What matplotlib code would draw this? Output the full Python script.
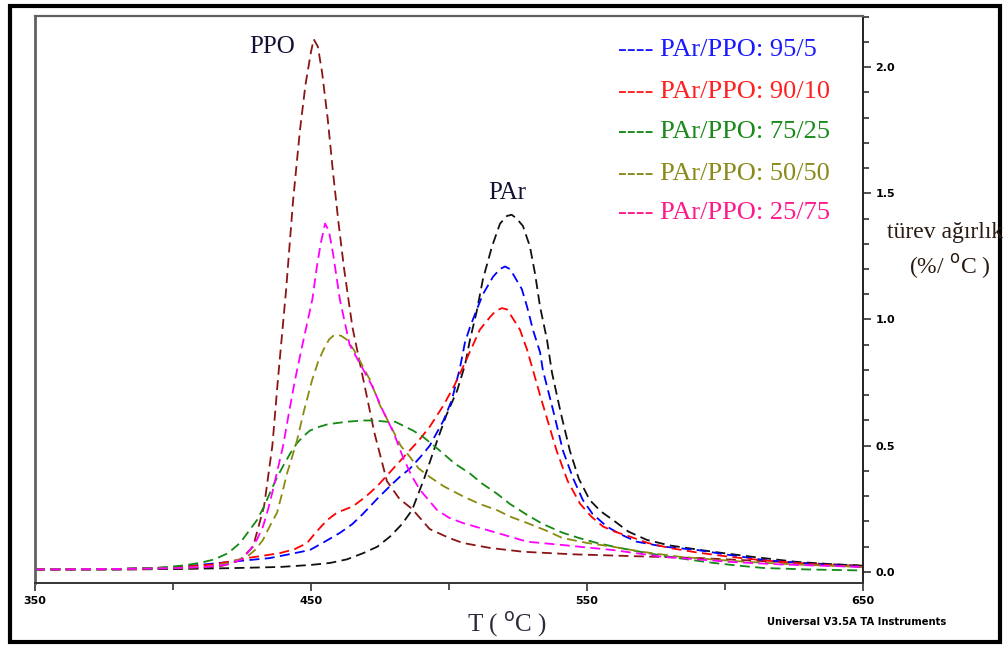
import matplotlib
matplotlib.use("Agg")
import matplotlib.pyplot as plt
from matplotlib.patches import Rectangle
from matplotlib.ticker import MultipleLocator

# ---- DTG curves: temperature (°C) and derivative weight (%/°C) ----
ppo_T = [350, 380, 400, 410, 418, 424, 429, 433, 436, 438, 441, 443.5, 446, 448, 450, 451,
         452.5, 454, 456, 458, 460, 462, 465, 469, 473, 477.5, 482, 486.6, 493, 500, 505, 515,
         527, 545, 560, 575, 591, 610, 630, 650]
ppo_v = [0.01, 0.01, 0.012, 0.015, 0.025, 0.045, 0.10, 0.26, 0.50, 0.76, 1.12, 1.47, 1.75, 1.93,
         2.06, 2.11, 2.08, 1.98, 1.80, 1.58, 1.38, 1.20, 0.97, 0.76, 0.55, 0.36, 0.29, 0.25, 0.17,
         0.135, 0.115, 0.095, 0.08, 0.07, 0.065, 0.06, 0.055, 0.045, 0.035, 0.025]

par_T = [350, 380, 400, 420, 439, 450, 457, 463, 469, 474, 478.6, 483, 486.6, 491, 495.7, 499,
         503, 505.8, 507.6, 510, 512.3, 515.6, 518.5, 521, 522.7, 524.5, 526.8, 529.3, 531.2, 533,
         535.5, 537.3, 540.5, 543.8, 547, 551, 555, 559.4, 565, 571.7, 580, 595.7, 610, 626, 640, 650]
par_v = [0.01, 0.01, 0.012, 0.015, 0.02, 0.028, 0.036, 0.05, 0.075, 0.10, 0.14, 0.19, 0.245, 0.37,
         0.52, 0.62, 0.72, 0.82, 0.92, 1.03, 1.16, 1.29, 1.38, 1.41, 1.415, 1.40, 1.37, 1.29, 1.18,
         1.05, 0.92, 0.79, 0.63, 0.48, 0.37, 0.285, 0.24, 0.206, 0.16, 0.127, 0.105, 0.08, 0.06,
         0.04, 0.03, 0.025]

b95_T = [350, 380, 400, 420.6, 435, 442, 449.6, 455, 460.5, 465, 468.8, 474, 478.6, 482, 485.9,
         490, 493, 498, 501, 504, 505.8, 507.6, 510.1, 512.3, 516, 518.5, 520.3, 522, 523.2, 526.4,
         528.3, 530.4, 533, 534, 537.5, 541.3, 545, 548.5, 552, 557.2, 562, 568, 578, 590, 600,
         613.8, 630, 650]
b95_v = [0.01, 0.012, 0.018, 0.04, 0.055, 0.07, 0.087, 0.12, 0.155, 0.19, 0.23, 0.29, 0.34, 0.375,
         0.41, 0.46, 0.50, 0.60, 0.68, 0.81, 0.91, 0.97, 1.04, 1.10, 1.17, 1.20, 1.21, 1.20, 1.18,
         1.12, 1.05, 0.96, 0.87, 0.80, 0.65, 0.48, 0.37, 0.285, 0.23, 0.18, 0.15, 0.12, 0.10, 0.087,
         0.07, 0.048, 0.033, 0.02]

b90_T = [350, 380, 400, 415, 426.8, 433, 438.8, 444, 448.6, 452, 455.8, 459.4, 465.2, 470, 474,
         479, 484.8, 489, 493, 498, 502, 505, 508.3, 511.2, 514.9, 517, 519.2, 521, 522.8, 525.7,
         528.3, 530.4, 533, 536, 539, 543, 547.5, 551.5, 555.8, 560, 565.6, 572, 580, 590, 601.8,
         615, 630, 650]
b90_v = [0.01, 0.012, 0.018, 0.03, 0.055, 0.065, 0.075, 0.09, 0.115, 0.16, 0.205, 0.235, 0.26,
         0.30, 0.34, 0.40, 0.47, 0.52, 0.575, 0.66, 0.74, 0.81, 0.89, 0.96, 1.01, 1.035, 1.045,
         1.04, 1.01, 0.96, 0.88, 0.80, 0.70, 0.59, 0.48, 0.36, 0.27, 0.22, 0.18, 0.16, 0.14, 0.115,
         0.095, 0.077, 0.06, 0.045, 0.032, 0.02]

b75_T = [350, 380, 395, 403, 409.8, 415, 420, 424.3, 427, 430.4, 433, 435, 437.5, 439.9, 442.5,
         444.9, 447, 449.6, 453, 456, 459.4, 463, 468.8, 473, 477.5, 480.5, 483.3, 487, 490.6, 494,
         497.8, 502, 507.6, 512, 517.4, 522, 528.3, 534, 541.3, 547, 553.6, 562, 571.7, 583, 595.7,
         605, 613.8, 630, 650]
b75_v = [0.01, 0.012, 0.017, 0.025, 0.036, 0.05, 0.075, 0.115, 0.155, 0.205, 0.26, 0.31, 0.37,
         0.42, 0.47, 0.51, 0.535, 0.56, 0.575, 0.585, 0.59, 0.595, 0.60, 0.60, 0.595, 0.595, 0.58,
         0.56, 0.535, 0.505, 0.47, 0.43, 0.39, 0.35, 0.31, 0.27, 0.226, 0.19, 0.155, 0.135, 0.115,
         0.095, 0.075, 0.055, 0.036, 0.025, 0.016, 0.01, 0.006]

b50_T = [350, 380, 400, 412, 420, 426.8, 430, 432.6, 435, 437.7, 439.5, 441.3, 443, 444.9, 447.5,
         450.4, 452.5, 454.5, 456.5, 458, 459.4, 461, 463, 465.5, 468, 471.4, 475, 479.7, 482.5,
         485.9, 489, 493.1, 498, 505, 511, 517.4, 522, 528.3, 535, 541, 550, 559.4, 570, 583.7, 595,
         608, 625, 650]
b50_v = [0.01, 0.012, 0.015, 0.02, 0.035, 0.06, 0.09, 0.127, 0.18, 0.235, 0.31, 0.39, 0.45, 0.52,
         0.64, 0.76, 0.83, 0.88, 0.92, 0.935, 0.94, 0.935, 0.92, 0.88, 0.83, 0.76, 0.66, 0.56, 0.50,
         0.455, 0.41, 0.376, 0.34, 0.30, 0.27, 0.245, 0.22, 0.194, 0.165, 0.135, 0.115, 0.10, 0.08,
         0.06, 0.05, 0.04, 0.03, 0.02]

b25_T = [350, 380, 400, 412, 420, 425, 427.9, 430.5, 432.6, 434.5, 436.2, 438, 439.9, 442, 444.2,
         446.5, 448.5, 450.5, 452, 453.5, 455.1, 456.5, 458, 460.5, 464, 468, 472, 476, 480,
         483.3, 486.5, 489.5, 495.7, 500, 505, 511, 517.4, 528.3, 541, 550, 559.4, 577.5, 590,
         601.8, 620, 650]
b25_v = [0.01, 0.012, 0.015, 0.02, 0.03, 0.05, 0.087, 0.13, 0.18, 0.25, 0.325, 0.41, 0.50, 0.63,
         0.76, 0.88, 0.98, 1.08, 1.20, 1.30, 1.38, 1.35, 1.26, 1.077, 0.90, 0.82, 0.74, 0.64, 0.55,
         0.455, 0.38, 0.325, 0.245, 0.215, 0.194, 0.175, 0.155, 0.12, 0.107, 0.097, 0.087, 0.06,
         0.05, 0.04, 0.03, 0.02]

x_ticks = [350, 450, 550, 650]
y_ticks = [0.0, 0.5, 1.0, 1.5, 2.0]

legend_labels = ["PAr/PPO: 95/5", "PAr/PPO: 90/10", "PAr/PPO: 75/25",
                 "PAr/PPO: 50/50", "PAr/PPO: 25/75"]
legend_colors = ["#1a1aff", "#ff2020", "#1a8a1a", "#8a8a1a", "#ff1a8c"]

serif = ["Liberation Serif", "DejaVu Serif"]

fig = plt.figure(figsize=(10.05, 6.46), dpi=100)
fig.patch.set_facecolor("white")

# outer frame
fig.patches.append(Rectangle((0.0095, 0.0055), 0.986, 0.985, transform=fig.transFigure,
                             fill=False, edgecolor="black", linewidth=3.0))

ax = fig.add_axes([35 / 1005, 1 - 583 / 646, (863 - 35) / 1005, (583 - 16) / 646])
ax.set_xlim(350, 650)
ax.set_ylim(-0.0436, 2.202)

series = [
    (ppo_T, ppo_v, "#8b1414"),
    (par_T, par_v, "#111111"),
    (b95_T, b95_v, "#0000ff"),
    (b90_T, b90_v, "#ff0000"),
    (b75_T, b75_v, "#138a13"),
    (b50_T, b50_v, "#8a8a10"),
    (b25_T, b25_v, "#ff00ff"),
]
for T, v, c in series:
    ln, = ax.plot(T, v, color=c, linewidth=1.3)
    ln.set_dashes((5.5, 3.0))

# axes styling: value axis on the right
ax.yaxis.tick_right()
ax.set_yticks(y_ticks)
ax.set_yticklabels([f"{t:.1f}" for t in y_ticks])
ax.yaxis.set_minor_locator(MultipleLocator(0.1))
ax.set_xticks(x_ticks)
ax.set_xticklabels([str(t) for t in x_ticks])
ax.xaxis.set_minor_locator(MultipleLocator(50))
ax.tick_params(axis="both", which="major", direction="out", length=6, width=1.2,
               color="#333333", labelsize=8, pad=3)
ax.tick_params(axis="y", which="minor", direction="out", length=4, width=1.2, color="#333333")
ax.tick_params(axis="x", which="minor", direction="out", length=5, width=1.2, color="#333333")
for lab in ax.get_xticklabels() + ax.get_yticklabels():
    lab.set_fontweight("bold")
    lab.set_family("DejaVu Sans")

ax.spines["left"].set_color("#606060")
ax.spines["left"].set_linewidth(2.0)
ax.spines["top"].set_color("#606060")
ax.spines["top"].set_linewidth(1.6)
ax.spines["bottom"].set_color("#333333")
ax.spines["bottom"].set_linewidth(1.4)
ax.spines["right"].set_color("#222222")
ax.spines["right"].set_linewidth(1.4)

# peak annotations
ax.text(435.9, 2.08, "PPO", family=serif, fontsize=18, color="#111133", ha="center", va="center")
ax.text(521, 1.50, "PAr", family=serif, fontsize=18, color="#111133", ha="center", va="center")

# legend as coloured text rows
legend_y = [0.9226, 0.8576, 0.7957, 0.7307, 0.6703]
for lab, col, yy in zip(legend_labels, legend_colors, legend_y):
    fig.text(618 / 1005, yy, "---- " + lab, family=serif, fontsize=19, color=col,
             ha="left", va="center")

# axis titles
fig.text(945 / 1005, 1 - 233 / 646, "türev ağırlık", family=serif, fontsize=17,
         color="#2a1a10", ha="center", va="center")
fig.text(950 / 1005, 1 - 267 / 646, "(%/ $^{\\mathrm{o}}$C )", family=serif, fontsize=17,
         color="#2a1a10", ha="center", va="center")
fig.text(507 / 1005, 1 - 625 / 646, "T ( $^{\\mathrm{o}}$C )", family=serif, fontsize=18,
         color="#2a2a3a", ha="center", va="center")
fig.text(857 / 1005, 1 - 622 / 646, "Universal V3.5A TA Instruments", family="DejaVu Sans",
         fontsize=7.2, fontweight="bold", color="black", ha="center", va="center")

fig.savefig("out.png", dpi=100, facecolor="white")
